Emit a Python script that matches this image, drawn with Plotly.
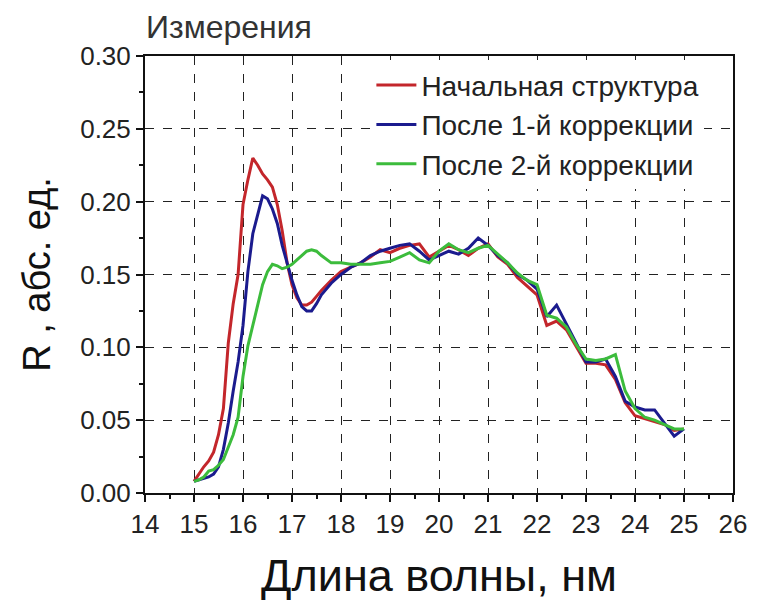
import plotly.graph_objects as go

wavelength = [15.0, 15.1, 15.2, 15.3, 15.4, 15.5, 15.6, 15.7, 15.8, 15.9,
              16.0, 16.1, 16.2, 16.3, 16.4, 16.5, 16.6, 16.7, 16.8, 16.9,
              17.0, 17.1, 17.2, 17.3, 17.4, 17.5, 17.6, 17.8, 18.0, 18.2,
              18.4, 18.6, 18.8, 19.0, 19.2, 19.4, 19.6, 19.8, 20.0, 20.2,
              20.4, 20.6, 20.8, 21.0, 21.2, 21.4, 21.6, 21.8, 22.0, 22.2,
              22.4, 22.6, 22.8, 23.0, 23.2, 23.4, 23.6, 23.8, 24.0, 24.2,
              24.4, 24.6, 24.8, 25.0]

r_initial = [0.008, 0.013, 0.018, 0.022, 0.028, 0.040, 0.058, 0.103, 0.130, 0.150,
             0.198, 0.215, 0.230, 0.225, 0.219, 0.215, 0.210, 0.198, 0.180, 0.158,
             0.143, 0.134, 0.129, 0.129, 0.131, 0.135, 0.139, 0.146, 0.152, 0.155,
             0.158, 0.162, 0.167, 0.165, 0.168, 0.170, 0.171, 0.162, 0.166, 0.170,
             0.167, 0.163, 0.168, 0.171, 0.162, 0.157, 0.148, 0.142, 0.136, 0.115,
             0.118, 0.112, 0.100, 0.089, 0.089, 0.088, 0.078, 0.062, 0.053, 0.051,
             0.049, 0.047, 0.043, 0.044]

r_corr1 = [0.008, 0.009, 0.010, 0.011, 0.013, 0.018, 0.030, 0.048, 0.070, 0.090,
           0.115, 0.152, 0.178, 0.192, 0.204, 0.202, 0.195, 0.185, 0.170, 0.158,
           0.146, 0.136, 0.128, 0.125, 0.125, 0.130, 0.136, 0.144, 0.150, 0.155,
           0.158, 0.163, 0.166, 0.168, 0.170, 0.171, 0.166, 0.160, 0.163, 0.166,
           0.164, 0.168, 0.175, 0.170, 0.163, 0.158, 0.150, 0.146, 0.140, 0.121,
           0.129, 0.116, 0.102, 0.090, 0.090, 0.092, 0.080, 0.063, 0.059, 0.057,
           0.057, 0.048, 0.039, 0.044]

r_corr2 = [0.008, 0.009, 0.011, 0.015, 0.016, 0.019, 0.023, 0.032, 0.040, 0.052,
           0.080, 0.101, 0.115, 0.127, 0.143, 0.152, 0.157, 0.156, 0.154, 0.155,
           0.157, 0.160, 0.163, 0.166, 0.167, 0.166, 0.163, 0.158, 0.158, 0.157,
           0.157, 0.157, 0.158, 0.159, 0.162, 0.165, 0.160, 0.158, 0.166, 0.171,
           0.167, 0.165, 0.168, 0.170, 0.164, 0.158, 0.151, 0.146, 0.143, 0.122,
           0.120, 0.114, 0.102, 0.092, 0.091, 0.092, 0.095, 0.070, 0.058, 0.052,
           0.050, 0.047, 0.044, 0.044]

names = ["Начальная структура", "После 1-й коррекции", "После 2-й коррекции"]
colors = ["#c3262b", "#1b1b8e", "#3cbc3c"]

x_ticks = list(range(14, 27))
y_ticks = [0.00, 0.05, 0.10, 0.15, 0.20, 0.25, 0.30]
y_ticklabels = ["0.00", "0.05", "0.10", "0.15", "0.20", "0.25", "0.30"]

FONT = "Liberation Sans, Arial, sans-serif"

fig = go.Figure()
for i, (name, ys) in enumerate(zip(names, [r_initial, r_corr1, r_corr2])):
    fig.add_trace(go.Scatter(
        x=wavelength, y=ys, mode="lines", name=name,
        line=dict(color=colors[i], width=3),
        legendgroup=f"g{i}",
    ))

fig.update_layout(
    width=759, height=604,
    margin=dict(l=145, r=18, t=56, b=109),
    paper_bgcolor="white", plot_bgcolor="white",
    font=dict(family=FONT, color="#222"),
    title=dict(text="Измерения", x=146/759, xanchor="left", y=1 - 27/604,
               yanchor="middle", font=dict(size=32, color="#333", family=FONT)),
    showlegend=True,
    legend=dict(x=0.385, y=0.99, xanchor="left", yanchor="top",
                bgcolor="white", borderwidth=0,
                font=dict(size=28, family=FONT, color="#222"),
                tracegroupgap=0, itemwidth=40),
    xaxis=dict(
        range=[14, 26], tickmode="array", tickvals=x_ticks,
        ticks="outside", ticklen=7, tickwidth=1.5, tickcolor="#111",
        showline=True, linecolor="#111", linewidth=2, mirror=True,
        showgrid=True, gridcolor="#222", gridwidth=1.3, griddash="dash",
        zeroline=False,
        tickfont=dict(size=26, family=FONT, color="#222"),
        minor=dict(ticks="outside", ticklen=4, dtick=0.5, tickcolor="#111", showgrid=False),
        title=dict(text="Длина волны, нм", font=dict(size=45, family=FONT, color="#111"),
                   standoff=21),
    ),
    yaxis=dict(
        range=[0, 0.30], tickmode="array", tickvals=y_ticks, ticktext=y_ticklabels,
        ticks="outside", ticklen=7, tickwidth=1.5, tickcolor="#111",
        showline=True, linecolor="#111", linewidth=2, mirror=True,
        showgrid=True, gridcolor="#222", gridwidth=1.3, griddash="dash",
        zeroline=False,
        tickfont=dict(size=26, family=FONT, color="#222"),
        minor=dict(ticks="outside", ticklen=4, dtick=0.025, tickcolor="#111", showgrid=False),
        title=dict(text="R , абс. ед.", font=dict(size=38, family=FONT, color="#111"),
                   standoff=18),
    ),
    xaxis2=dict(
        overlaying="x", side="top", anchor="y", range=[14, 26],
        tickmode="array", tickvals=x_ticks, showticklabels=False,
        ticks="inside", ticklen=7, tickwidth=1.5, tickcolor="#111",
        showgrid=False, zeroline=False, showline=False,
        minor=dict(ticks="inside", ticklen=4, dtick=0.5, tickcolor="#111"),
    ),
    yaxis2=dict(
        overlaying="y", side="right", anchor="x", range=[0, 0.30],
        tickmode="array", tickvals=y_ticks, showticklabels=False,
        ticks="inside", ticklen=7, tickwidth=1.5, tickcolor="#111",
        showgrid=False, zeroline=False, showline=False,
        minor=dict(ticks="inside", ticklen=4, dtick=0.025, tickcolor="#111"),
    ),
)

fig.write_html("out.html")
